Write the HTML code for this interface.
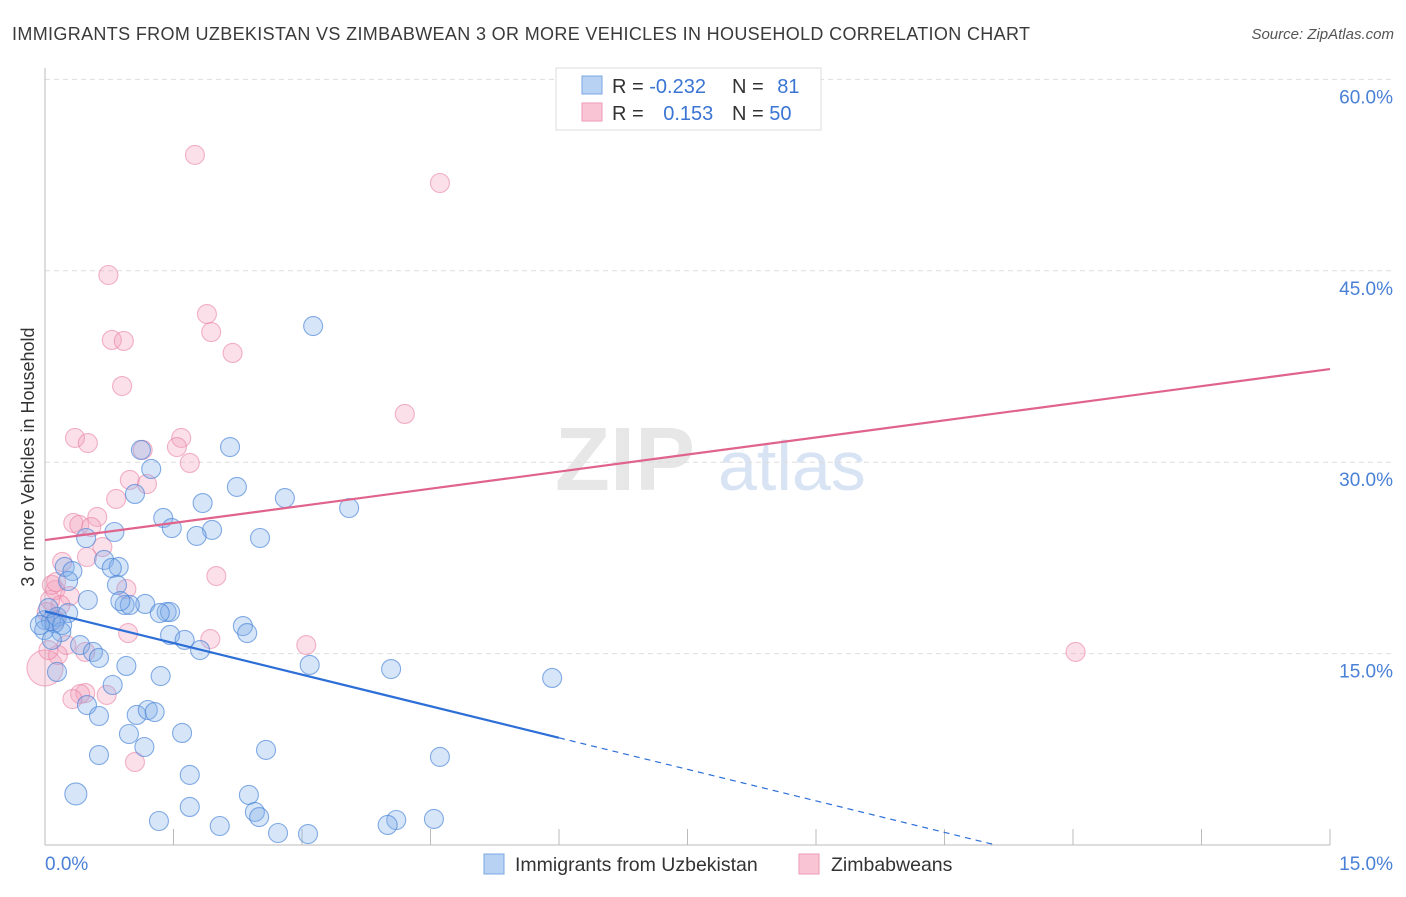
<!DOCTYPE html>
<html><head><meta charset="utf-8"><style>
body{margin:0;background:#fff;font-family:"Liberation Sans",sans-serif}
svg text{font-family:"Liberation Sans",sans-serif}
</style></head><body>
<svg id="chart" width="1406" height="892" xmlns="http://www.w3.org/2000/svg">
<text x="12" y="40" font-size="18" fill="#3a3a3a" textLength="1018" lengthAdjust="spacing">IMMIGRANTS FROM UZBEKISTAN VS ZIMBABWEAN 3 OR MORE VEHICLES IN HOUSEHOLD CORRELATION CHART</text>
<text x="1394" y="39" font-size="15" fill="#555" font-style="italic" text-anchor="end">Source: ZipAtlas.com</text>
<text x="0" y="0" transform="translate(34,457) rotate(-90)" font-size="18" fill="#333" text-anchor="middle">3 or more Vehicles in Household</text>
<g><text x="555" y="490" font-size="90" fill="#ddd" font-family="Liberation Serif" font-weight="bold" opacity="0.7">ZIP</text><text x="718" y="490" font-size="70" fill="#c8d8f0" opacity="0.7">atlas</text></g>
<g id="grid"></g><g id="ticks"></g><g id="pts"></g><g id="lines"></g>
<g>
<rect x="556" y="68" width="265" height="62" fill="#fff" stroke="#ddd"/>
<rect x="582" y="76" width="20" height="18" fill="#b8d2f4" stroke="#7ca6e6"/>
<rect x="582" y="103" width="20" height="18" fill="#f9c5d4" stroke="#ef9ab4"/>
<text x="612" y="93" font-size="20" fill="#333">R = <tspan fill="#3a75d3">-0.232</tspan></text>
<text x="732" y="93" font-size="20" fill="#333">N = <tspan fill="#3a75d3" dx="8">81</tspan></text>
<text x="612" y="120" font-size="20" fill="#333">R = <tspan fill="#3a75d3" dx="14">0.153</tspan></text>
<text x="732" y="120" font-size="20" fill="#333">N = <tspan fill="#3a75d3">50</tspan></text>
</g>
<g>
<rect x="484" y="854" width="20" height="20" fill="#b8d2f4" stroke="#7ca6e6"/>
<text x="515" y="871" font-size="19.5" fill="#333">Immigrants from Uzbekistan</text>
<rect x="799" y="854" width="20" height="20" fill="#f9c5d4" stroke="#ef9ab4"/>
<text x="831" y="871" font-size="19.5" fill="#333">Zimbabweans</text>
</g>
</svg>
<script>
const yTicks=[15,30,45,60];
const yTickLabels=["15.0%","30.0%","45.0%","60.0%"];
const xTickLabels=["0.0%","15.0%"];
const bluePx=[[313,326],[141,450],[230,447],[151,469],[237,487],[135,494],[285,498],[349,508],[163,518],[203,503],[172,528],[212,530],[197,536],[260,538],[86,538],[114,532],[104,560],[119,567],[65,567],[72,571],[112,568],[68,581],[117,585],[125,605],[145,604],[130,605],[167,612],[170,612],[57,617],[68,613],[45,620],[51,621],[61,632],[243,626],[247,633],[170,635],[185,640],[200,650],[80,645],[93,652],[99,658],[310,665],[391,669],[126,666],[161,676],[57,672],[113,685],[87,705],[99,716],[137,715],[148,710],[155,712],[182,733],[129,734],[144,747],[266,750],[440,757],[99,755],[190,775],[76,794],[249,795],[190,807],[255,812],[259,817],[159,821],[220,826],[396,820],[434,819],[388,825],[278,833],[308,834],[552,678],[48,608],[44,630],[54,623],[62,625],[52,640],[40,625],[88,600],[120,601],[160,613]];
const pinkPx=[[195,155],[440,183],[108,275],[207,314],[112,340],[124,341],[211,332],[233,353],[122,386],[405,414],[75,438],[88,443],[181,438],[177,447],[190,463],[130,480],[143,450],[147,484],[116,499],[97,517],[73,523],[79,525],[91,527],[102,547],[87,557],[62,562],[216,576],[126,589],[55,590],[70,596],[60,605],[50,600],[47,612],[55,620],[128,633],[210,639],[306,645],[1076,652],[85,652],[66,645],[45,668],[85,693],[80,694],[72,699],[107,695],[135,762],[58,655],[52,585],[48,650],[56,582]];
const blueX=bluePx.map(p=>+((p[0]-45)/85.667).toFixed(2));
const blueY=bluePx.map(p=>+((845-p[1])/12.76).toFixed(2));
const pinkX=pinkPx.map(p=>+((p[0]-45)/85.667).toFixed(2));
const pinkY=pinkPx.map(p=>+((845-p[1])/12.76).toFixed(2));
const blueTrend=[[0,18.3],[6,8.4],[11.1,0]];
const pinkTrend=[[0,23.9],[15,37.3]];
const X=v=>45+v*85.667, Y=v=>845-v*12.76;
const NS="http://www.w3.org/2000/svg";
function mk(tag,attrs,parent){const e=document.createElementNS(NS,tag);for(const k in attrs)e.setAttribute(k,attrs[k]);document.getElementById(parent).appendChild(e);return e;}
yTicks.forEach((t,i)=>{
 const g=mk('line',{x1:45,x2:1393,y1:Y(t),y2:Y(t),stroke:'#ddd','stroke-dasharray':'5,4'},'grid');
 
 
 const l=mk('text',{x:1393,y:Y(t)+24,'font-size':19,fill:'#4a80d6','text-anchor':'end'},'grid');l.textContent=yTickLabels[i];
 
 
});
const ax=mk('line',{x1:45,x2:45,y1:68,y2:845,stroke:'#bbb'},'ticks');


const bx=mk('line',{x1:45,x2:1330,y1:845,y2:845,stroke:'#bbb'},'ticks');


for(let i=1;i<=10;i++){const t=mk('line',{x1:X(i*1.5),x2:X(i*1.5),y1:829,y2:845,stroke:'#bbb'},'ticks');
 
 }
const xl0=mk('text',{x:45,y:870,'font-size':19,fill:'#4a80d6'},'ticks');xl0.textContent=xTickLabels[0];


const xl1=mk('text',{x:1393,y:870,'font-size':19,fill:'#4a80d6','text-anchor':'end'},'ticks');xl1.textContent=xTickLabels[1];


pinkX.forEach((x,i)=>{const c=mk('circle',{cx:X(x),cy:Y(pinkY[i]),r:(i==40?18:9.5),fill:'rgba(244,160,188,0.32)',stroke:'rgba(234,130,165,0.6)','stroke-width':1.1},'pts');
 
 });
blueX.forEach((x,i)=>{const c=mk('circle',{cx:X(x),cy:Y(blueY[i]),r:(i==59?11:9.5),fill:'rgba(130,175,235,0.33)',stroke:'rgba(70,130,215,0.65)','stroke-width':1.1},'pts');
 
 });
const b1=mk('line',{x1:X(blueTrend[0][0]),y1:Y(blueTrend[0][1]),x2:X(blueTrend[1][0]),y2:Y(blueTrend[1][1]),stroke:'#2d6fd6','stroke-width':2.2},'lines');


const b2=mk('line',{x1:X(blueTrend[1][0]),y1:Y(blueTrend[1][1]),x2:X(blueTrend[2][0]),y2:Y(blueTrend[2][1]),stroke:'#2d6fd6','stroke-width':1.2,'stroke-dasharray':'6,5'},'lines');


const p1=mk('line',{x1:X(pinkTrend[0][0]),y1:Y(pinkTrend[0][1]),x2:X(pinkTrend[1][0]),y2:Y(pinkTrend[1][1]),stroke:'#e0638c','stroke-width':2.2},'lines');


</script>
</body></html>
